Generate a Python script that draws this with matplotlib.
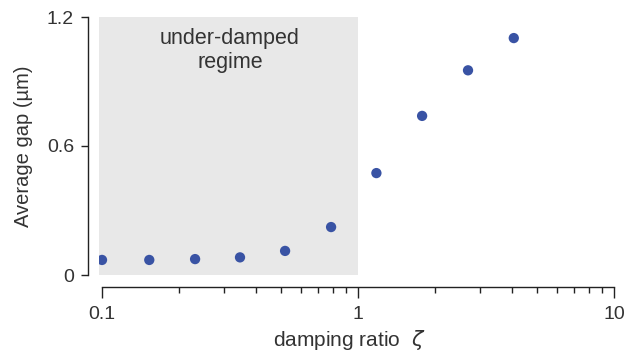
import numpy as np
import matplotlib
matplotlib.use('Agg')
import matplotlib.pyplot as plt
from matplotlib.ticker import LogLocator, FixedLocator, NullFormatter

plt.rcParams['font.family'] = ['Liberation Sans', 'DejaVu Sans']

# data
damping = [0.10, 0.153, 0.231, 0.346, 0.519, 0.785, 1.18, 1.78, 2.69, 4.06]
avg_gap = [0.070, 0.070, 0.074, 0.082, 0.112, 0.223, 0.474, 0.740, 0.952, 1.102]
y_ticks = [0, 0.6, 1.2]
y_labels = ['0', '0.6', '1.2']
x_ticks = [0.1, 1, 10]
x_labels = ['0.1', '1', '10']

txt = '#333333'
dot = '#3953a4'

fig = plt.figure(figsize=(6.26, 3.54), dpi=100)
ax = fig.add_axes([99 / 626, 79 / 354, 515 / 626, 258 / 354])

# shaded under-damped region
ax.axvspan(0.05, 1, color='#e8e8e8', lw=0, zorder=0)
ax.text(np.sqrt(0.1), 1.148, 'under-damped\nregime', ha='center', va='top',
        fontsize=15.5, color=txt, linespacing=1.2)

ax.scatter(damping, avg_gap, s=55, color=dot, edgecolors='none', zorder=3)

ax.set_xscale('log')
ax.set_xlim(10 ** (-1 - 3 / 256), 10)
ax.set_ylim(0, 1.2)

for s in ['top', 'right']:
    ax.spines[s].set_visible(False)
ax.spines['left'].set_position(('outward', 8))
ax.spines['bottom'].set_position(('outward', 8.6))
ax.spines['left'].set_bounds(0, 1.2)
ax.spines['bottom'].set_bounds(0.1, 10)
for s in ['left', 'bottom']:
    ax.spines[s].set_color('#222222')
    ax.spines[s].set_linewidth(1.0)

ax.set_yticks(y_ticks)
ax.set_yticklabels(y_labels)
ax.xaxis.set_major_locator(FixedLocator(x_ticks))
ax.set_xticklabels(x_labels)
ax.xaxis.set_minor_locator(LogLocator(base=10, subs=np.arange(2, 10)))
ax.xaxis.set_minor_formatter(NullFormatter())

ax.tick_params(axis='y', length=5, width=1, pad=5, labelsize=14,
               colors='#222222', labelcolor=txt)
ax.tick_params(axis='x', which='major', length=8, width=1, pad=6,
               labelsize=14, colors='#222222', labelcolor=txt)
ax.tick_params(axis='x', which='minor', length=4.5, width=1, colors='#222222')

ax.set_ylabel('Average gap (µm)', fontsize=14.5, color=txt)
ax.yaxis.set_label_coords(-0.128, 0.5)
ax.set_xlabel('damping ratio  $\\zeta$', fontsize=15, color=txt)
ax.xaxis.set_label_coords(0.485, -0.205)

fig.savefig('out.png', dpi=100)
